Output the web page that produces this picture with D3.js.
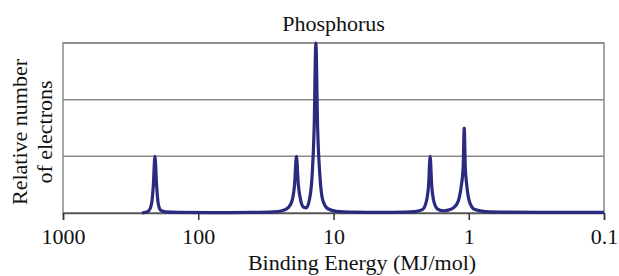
<!DOCTYPE html>
<html>
<head>
<meta charset="utf-8">
<script src="https://cdn.jsdelivr.net/npm/d3@7"></script>
<style>
  body { margin: 0; background: #fff; }
  svg text { font-family: "Liberation Serif", "Times New Roman", Times, "DejaVu Serif", serif; fill: #111; }
</style>
</head>
<body>
<div id="chart"></div>
<script>
// photoelectron spectrum of phosphorus
// binding energy (MJ/mol) and relative number of electrons along the trace
const energy = [
  261, 240, 230, 221, 215, 209, 203, 198, 190, 175, 140, 80, 40,
  28, 24, 21.5, 20.2, 19.4, 18.8, 18.2, 17.4, 16.6,
  15.9, 15.1, 14.4, 13.9, 13.5, 13.1, 12.6, 12.0, 11.0, 9.5, 7, 4.5, 3,
  2.5, 2.2, 2.06, 1.98, 1.93, 1.88, 1.81, 1.7, 1.55, 1.42,
  1.3, 1.2, 1.14, 1.1, 1.08, 1.06, 1.03, 0.98, 0.9, 0.75, 0.5, 0.25, 0.1
];
const electrons = [
  0, 0.04, 0.1, 0.35, 0.95, 2, 0.95, 0.35, 0.1, 0.04, 0.02, 0.01, 0.02,
  0.04, 0.08, 0.2, 0.45, 1.0, 2, 1.0, 0.4, 0.2,
  0.18, 0.45, 1.3, 3.0, 6, 3.0, 1.3, 0.45, 0.15, 0.06, 0.03, 0.02, 0.03,
  0.05, 0.12, 0.4, 1.0, 2, 1.0, 0.4, 0.14, 0.08, 0.1,
  0.18, 0.4, 0.9, 1.6, 3, 1.6, 0.9, 0.35, 0.12, 0.05, 0.03, 0.02, 0.02
];
const xTicks = [1000, 100, 10, 1, 0.1];
const xTickLabels = ["1000", "100", "10", "1", "0.1"];
const yGrid = [0, 2, 4, 6];

const serif = '"Liberation Serif", "Times New Roman", Times, "DejaVu Serif", serif';
const fs = "22px";

const W = 619, H = 276;
const margin = {top: 43, right: 15, bottom: 63, left: 63};
const width = W - margin.left - margin.right;
const height = H - margin.top - margin.bottom;

const svg = d3.select("#chart").append("svg")
  .attr("width", W).attr("height", H);
const g = svg.append("g")
  .attr("transform", "translate(" + margin.left + "," + margin.top + ")");

const x = d3.scaleLog().domain([1000, 0.1]).range([0, width]);
const y = d3.scaleLinear().domain([0, 6]).range([height, 0]);

// horizontal gridlines
g.append("g").selectAll("line")
  .data(yGrid)
  .enter().append("line")
  .attr("x1", 0).attr("x2", width)
  .attr("y1", d => y(d)).attr("y2", d => y(d))
  .style("stroke", "#8a8a8a")
  .style("stroke-width", 1.5);

// plot frame
g.append("rect")
  .attr("width", width).attr("height", height)
  .style("fill", "none")
  .style("stroke", "#8a8a8a")
  .style("stroke-width", 1.5);

// x axis
const xAxis = g.append("g")
  .attr("transform", "translate(0," + height + ")")
  .call(d3.axisBottom(x).tickValues(xTicks)
    .tickFormat((d, i) => xTickLabels[i]).tickSizeOuter(0).tickSize(7).tickPadding(8));
xAxis.attr("font-family", null).attr("font-size", null);
xAxis.select(".domain").style("stroke", "#555").style("stroke-width", 1.5);
xAxis.selectAll(".tick line").style("stroke", "#333").style("stroke-width", 1.5);
xAxis.selectAll("text")
  .style("font-family", serif)
  .style("font-size", fs)
  .style("fill", "#111");

// spectrum trace
const points = energy.map((e, i) => ({e: e, n: electrons[i]}));
const line = d3.line()
  .x(d => x(d.e))
  .y(d => y(d.n))
  .curve(d3.curveMonotoneX);

g.append("path")
  .datum(points)
  .attr("d", line)
  .style("fill", "none")
  .style("stroke", "#2a2a80")
  .style("stroke-width", 3.2)
  .style("stroke-linejoin", "round");

// title
svg.append("text")
  .attr("x", margin.left + width / 2).attr("y", 31)
  .attr("text-anchor", "middle")
  .style("font-family", serif)
  .style("font-size", fs)
  .text("Phosphorus");

// axis titles
svg.append("text")
  .attr("x", 362).attr("y", 270)
  .attr("text-anchor", "middle")
  .style("font-family", serif)
  .style("font-size", fs)
  .text("Binding Energy (MJ/mol)");

const yl = svg.append("text")
  .attr("transform", "translate(0,132) rotate(-90)")
  .attr("text-anchor", "middle")
  .style("font-family", serif)
  .style("font-size", fs);
yl.append("tspan").attr("x", 0).attr("y", 27).text("Relative number");
yl.append("tspan").attr("x", 0).attr("y", 52).text("of electrons");
</script>
</body>
</html>
